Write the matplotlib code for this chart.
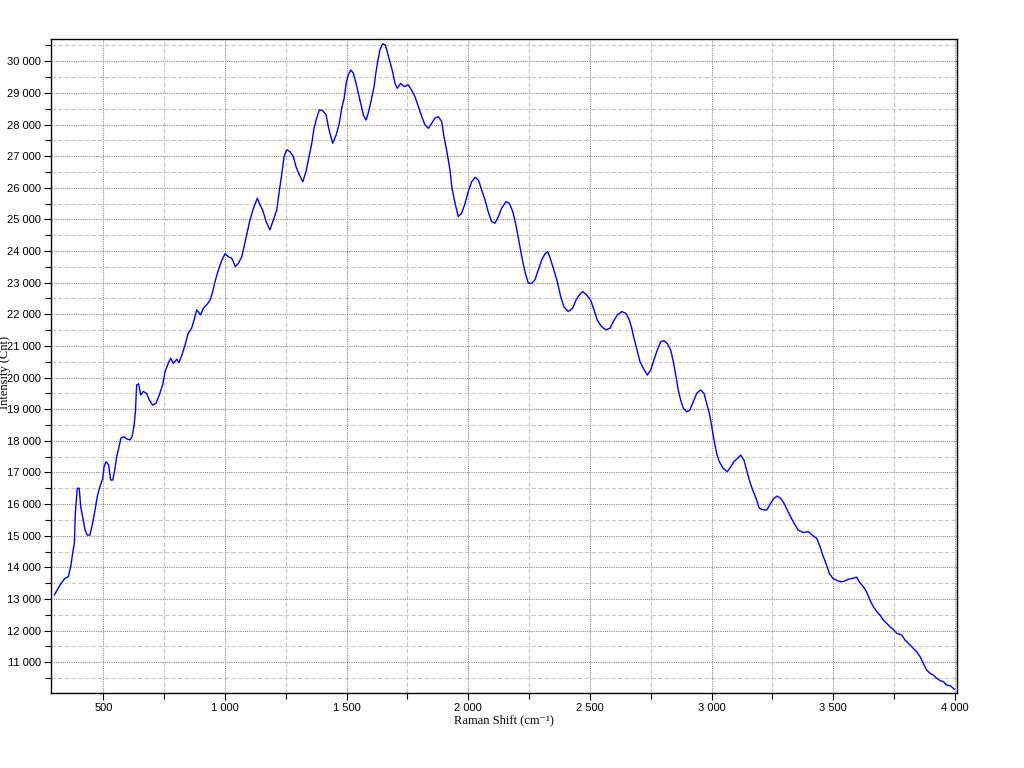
import matplotlib
matplotlib.use("Agg")
import matplotlib.pyplot as plt
from matplotlib.ticker import MultipleLocator, FuncFormatter

# Raman spectrum (shift in cm-1, intensity in counts)
shift = [299, 322, 342, 356, 366, 374, 381, 385, 393, 401, 407, 415, 425, 434, 445,
         456, 466, 475, 486, 498, 503, 511, 522, 530, 539, 547, 555, 565, 572, 585,
         596, 610, 618, 626, 632, 637, 645, 654, 664, 678, 689, 703, 717, 730, 744,
         754, 767, 777, 788, 802, 811, 823, 836, 849, 863, 873, 884, 900, 911, 925,
         939, 950, 959, 969, 980, 991, 1000, 1014, 1028, 1043, 1055, 1069, 1082, 1092,
         1103, 1117, 1133, 1144, 1155, 1169, 1185, 1199, 1213, 1223, 1233, 1243, 1254,
         1267, 1281, 1292, 1306, 1320, 1333, 1347, 1357, 1366, 1377, 1388, 1402, 1416,
         1425, 1435, 1443, 1457, 1470, 1480, 1490, 1498, 1507, 1517, 1528, 1539, 1548,
         1558, 1569, 1580, 1589, 1603, 1613, 1621, 1629, 1637, 1648, 1659, 1667, 1678,
         1689, 1699, 1708, 1722, 1736, 1754, 1767, 1781, 1795, 1809, 1822, 1836, 1850,
         1863, 1877, 1891, 1900, 1911, 1925, 1933, 1946, 1959, 1973, 1987, 2000, 2014,
         2028, 2042, 2055, 2069, 2082, 2096, 2110, 2124, 2137, 2155, 2169, 2183, 2196,
         2210, 2220, 2233, 2247, 2261, 2274, 2288, 2302, 2315, 2327, 2339, 2352, 2366,
         2380, 2393, 2411, 2429, 2443, 2456, 2470, 2487, 2503, 2517, 2530, 2548, 2565,
         2583, 2596, 2613, 2631, 2648, 2662, 2672, 2678, 2706, 2720, 2736, 2750, 2763,
         2777, 2791, 2804, 2818, 2832, 2843, 2854, 2863, 2873, 2884, 2898, 2911, 2925,
         2939, 2955, 2969, 2980, 2991, 3001, 3010, 3021, 3032, 3048, 3065, 3079, 3092,
         3106, 3120, 3133, 3144, 3155, 3169, 3183, 3196, 3213, 3227, 3243, 3257, 3270,
         3284, 3298, 3311, 3325, 3339, 3356, 3377, 3398, 3418, 3432, 3446, 3457, 3470,
         3484, 3498, 3511, 3528, 3542, 3562, 3583, 3596, 3610, 3624, 3637, 3651, 3665,
         3679, 3692, 3706, 3720, 3733, 3747, 3761, 3782, 3795, 3809, 3829, 3843, 3857,
         3870, 3884, 3898, 3911, 3925, 3939, 3953, 3966, 3983, 3998]

intensity = [13127, 13443, 13650, 13705, 14021, 14445, 14760, 15710, 16500, 16500,
             15920, 15600, 15180, 15020, 15020, 15390, 15810, 16230, 16550, 16810,
             17180, 17340, 17240, 16760, 16760, 17080, 17500, 17815, 18080, 18130,
             18060, 18030, 18130, 18450, 18920, 19770, 19800, 19450, 19560, 19500,
             19290, 19130, 19190, 19450, 19770, 20190, 20450, 20610, 20450, 20580,
             20470, 20710, 21030, 21400, 21560, 21820, 22140, 21980, 22190, 22300,
             22450, 22720, 23030, 23300, 23560, 23770, 23910, 23820, 23770, 23510,
             23610, 23820, 24250, 24610, 24980, 25350, 25670, 25460, 25300, 24930,
             24670, 24980, 25300, 25880, 26405, 26985, 27200, 27140, 26985, 26670,
             26405, 26190, 26510, 27040, 27410, 27880, 28200, 28460, 28440, 28300,
             27930, 27620, 27410, 27670, 28040, 28515, 28830, 29300, 29570, 29725,
             29620, 29300, 28990, 28670, 28300, 28140, 28360, 28830, 29200, 29670,
             30040, 30360, 30550, 30515, 30300, 29990, 29670, 29300, 29145, 29300,
             29200, 29250, 29090, 28880, 28565, 28250, 27990, 27880, 28040, 28200,
             28250, 28090, 27620, 27200, 26565, 25985, 25510, 25090, 25195, 25510,
             25880, 26190, 26330, 26245, 25930, 25615, 25245, 24930, 24880, 25090,
             25350, 25560, 25510, 25245, 24825, 24245, 23820, 23350, 22980, 22980,
             23085, 23400, 23720, 23910, 23980, 23720, 23400, 23030, 22560, 22240,
             22085, 22190, 22450, 22610, 22720, 22610, 22450, 22140, 21820, 21610,
             21510, 21560, 21770, 21980, 22085, 22030, 21820, 21560, 21345, 20500,
             20290, 20080, 20240, 20555, 20870, 21135, 21165, 21085, 20870, 20500,
             20030, 19610, 19290, 19030, 18920, 18975, 19240, 19500, 19610, 19500,
             19185, 18870, 18450, 18030, 17605, 17340, 17130, 17025, 17180, 17340,
             17445, 17550, 17395, 17080, 16765, 16445, 16185, 15870, 15815, 15815,
             16025, 16185, 16255, 16185, 16025, 15815, 15600, 15395, 15180, 15100,
             15130, 14995, 14920, 14655, 14390, 14130, 13815, 13655, 13600, 13550,
             13550, 13625, 13655, 13690, 13515, 13390, 13230, 12970, 12755, 12600,
             12495, 12335, 12230, 12125, 12040, 11915, 11860, 11705, 11600, 11440,
             11335, 11175, 10970, 10755, 10650, 10600, 10495, 10420, 10385, 10280,
             10250, 10145]


def space_thousands(v, pos):
    return "{:,.0f}".format(v).replace(",", " ")


fig = plt.figure(figsize=(10.24, 7.68), dpi=100)
ax = fig.add_axes([0.0498, 0.0977, 0.8848, 0.8516])

ax.plot(shift, intensity, color="#0000ff", lw=1.0)

ax.set_xlim(285, 4009)
ax.set_ylim(10029, 30705)

ax.xaxis.set_major_locator(MultipleLocator(500))
ax.xaxis.set_minor_locator(MultipleLocator(250))
ax.yaxis.set_major_locator(MultipleLocator(1000))
ax.yaxis.set_minor_locator(MultipleLocator(500))
ax.xaxis.set_major_formatter(FuncFormatter(space_thousands))
ax.yaxis.set_major_formatter(FuncFormatter(space_thousands))

ax.grid(which="major", color="#8c8c8c", linestyle=(0, (1, 1)), lw=0.8)
ax.grid(which="minor", color="#c8c8c8", linestyle=(0, (4, 2)), lw=0.8)
ax.set_axisbelow(True)

ax.tick_params(which="major", direction="out", length=5, width=0.8,
               labelsize=8, pad=2)
ax.tick_params(which="minor", direction="out", length=4, width=0.8)
for lab in ax.get_xticklabels() + ax.get_yticklabels():
    lab.set_family(["Liberation Sans Narrow", "Liberation Sans", "DejaVu Sans"])

for s in ax.spines.values():
    s.set_linewidth(1.0)

ax.set_xlabel("Raman Shift (cm⁻¹)", family=["Liberation Serif", "DejaVu Serif"],
              fontsize=9, labelpad=1)
ax.set_ylabel("Intensity (Cnt)", family=["Liberation Serif", "DejaVu Serif"],
              fontsize=9)
ax.yaxis.set_label_coords(-0.0445, 0.49)

fig.savefig("out.png", dpi=100)
